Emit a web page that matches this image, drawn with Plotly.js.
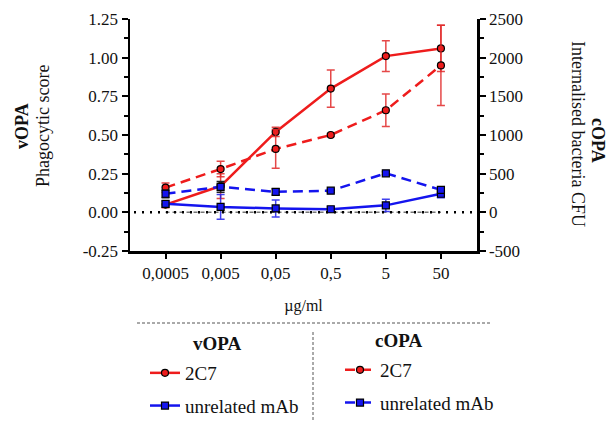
<!DOCTYPE html>
<html>
<head>
<meta charset="utf-8">
<script src="https://cdn.plot.ly/plotly-3.0.1.min.js"></script>
<style>html,body{margin:0;padding:0;background:#fff;}#chart{width:608px;height:422px;}</style>
</head>
<body>
<div id="chart"></div>
<script>
// ---- data ----
const categories = ['0,0005', '0,005', '0,05', '0,5', '5', '50'];
const vopa2C7 = [0.05, 0.17, 0.52, 0.80, 1.01, 1.06];
const vopa2C7Err = [0.02, 0.08, 0.03, 0.12, 0.10, 0.15];
const vopaUnrelated = [0.055, 0.035, 0.025, 0.02, 0.045, 0.12];
const vopaUnrelatedErr = [0.02, 0.08, 0.055, 0.015, 0.04, 0.025];
const copa2C7 = [320, 560, 820, 1000, 1320, 1900];
const copa2C7Err = [60, 100, 250, 20, 210, 520];
const copaUnrelated = [240, 330, 265, 280, 505, 290];
const copaUnrelatedErr = [50, 70, 40, 20, 20, 30];
const controlBaseline = [0, 0, 0, 0, 0, 0];
const leftTicks = [-0.25, 0, 0.25, 0.5, 0.75, 1.0, 1.25];
const leftTickLabels = ['-0.25', '0.00', '0.25', '0.50', '0.75', '1.00', '1.25'];
const rightTicks = [-500, 0, 500, 1000, 1500, 2000, 2500];
const rightTickLabels = ['-500', '0', '500', '1000', '1500', '2000', '2500'];

// ---- layout helpers ----
const W = 608, H = 422;
const M = {l: 130, r: 131, t: 19, b: 171, autoexpand: false};
const pw = W - M.l - M.r, ph = H - M.t - M.b;
const px = x => (x - M.l) / pw;
const py = y => (H - M.b - y) / ph;

const RED = '#ee1c1c', BLUE = '#1414ee';
const FONT = 'Liberation Serif';
const TXT = '#111';

const traces = [
  {x: categories, y: controlBaseline, type: 'scatter', mode: 'lines', yaxis: 'y',
   line: {color: '#777', width: 1.5, dash: '4px,3px'}, showlegend: false, hoverinfo: 'skip'},
  {x: categories, y: vopa2C7, name: '2C7', type: 'scatter', mode: 'lines+markers', yaxis: 'y',
   legend: 'legend', legendgroup: 'a',
   line: {color: RED, width: 2.5},
   marker: {symbol: 'circle', size: 7, color: RED, line: {color: '#000', width: 1.2}},
   error_y: {type: 'data', array: vopa2C7Err, visible: true, color: 'rgba(225,40,40,0.85)', thickness: 1.5, width: 4}},
  {x: categories, y: vopaUnrelated, name: 'unrelated mAb', type: 'scatter', mode: 'lines+markers', yaxis: 'y',
   legend: 'legend', legendgroup: 'b',
   line: {color: BLUE, width: 2.5},
   marker: {symbol: 'square', size: 7, color: BLUE, line: {color: '#000', width: 1.2}},
   error_y: {type: 'data', array: vopaUnrelatedErr, visible: true, color: 'rgba(30,30,235,0.85)', thickness: 1.5, width: 4}},
  {x: categories, y: copa2C7, name: '2C7', type: 'scatter', mode: 'lines+markers', yaxis: 'y2',
   legend: 'legend2', legendgroup: 'c',
   line: {color: RED, width: 2.5, dash: '10px,6px'},
   marker: {symbol: 'circle', size: 7, color: RED, line: {color: '#000', width: 1.2}},
   error_y: {type: 'data', array: copa2C7Err, visible: true, color: 'rgba(225,40,40,0.85)', thickness: 1.5, width: 4}},
  {x: categories, y: copaUnrelated, name: 'unrelated mAb', type: 'scatter', mode: 'lines+markers', yaxis: 'y2',
   legend: 'legend2', legendgroup: 'd',
   line: {color: BLUE, width: 2.5, dash: '10px,6px'},
   marker: {symbol: 'square', size: 7, color: BLUE, line: {color: '#000', width: 1.2}},
   error_y: {type: 'data', array: copaUnrelatedErr, visible: true, color: '#222', thickness: 1.5, width: 4}}
];

const axisCommon = {
  showline: true, linecolor: '#000', linewidth: 2.5, ticks: 'outside', ticklen: 6, tickwidth: 2,
  tickcolor: '#000', showgrid: false, zeroline: false, automargin: false,
  tickfont: {family: FONT, size: 17, color: TXT}
};

const legendCommon = {
  xanchor: 'left', yanchor: 'top', bgcolor: 'rgba(0,0,0,0)',
  font: {family: FONT, size: 19, color: TXT}, tracegroupgap: 5, itemwidth: 30
};

const layout = {
  width: W, height: H,
  margin: M,
  paper_bgcolor: '#fff', plot_bgcolor: '#fff',
  font: {family: FONT, color: TXT},
  xaxis: Object.assign({}, axisCommon, {
    type: 'category', range: [-0.645, 5.655], ticklen: 5,
    title: {text: 'µg/ml', font: {family: FONT, size: 16, color: TXT}, standoff: 18}
  }),
  yaxis: Object.assign({}, axisCommon, {
    range: [-0.25, 1.25], tickvals: leftTicks, ticktext: leftTickLabels,
    minor: {dtick: 0.125, ticks: 'outside', ticklen: 4, tickwidth: 2, tickcolor: '#000'}
  }),
  yaxis2: Object.assign({}, axisCommon, {
    overlaying: 'y', side: 'right', range: [-500, 2500], tickvals: rightTicks, ticktext: rightTickLabels,
    minor: {dtick: 250, ticks: 'outside', ticklen: 4, tickwidth: 2, tickcolor: '#000'}
  }),
  legend: Object.assign({}, legendCommon, {x: px(145), y: py(354)}),
  legend2: Object.assign({}, legendCommon, {x: px(340), y: py(351)}),
  shapes: [
    {type: 'line', xref: 'paper', yref: 'y', x0: px(134), x1: px(474), y0: 0, y1: 0,
     line: {color: '#000', width: 2.5, dash: '2px,6px'}},
    {type: 'line', xref: 'paper', yref: 'paper', x0: px(137), x1: px(492), y0: py(323), y1: py(323),
     line: {color: '#555', width: 1, dash: '3px,2px'}},
    {type: 'line', xref: 'paper', yref: 'paper', x0: px(313), x1: px(313), y0: py(332), y1: py(422),
     line: {color: '#555', width: 1, dash: '3px,2px'}}
  ],
  annotations: [
    {xref: 'paper', yref: 'paper', x: px(22), y: py(126), text: '<b>vOPA</b>', textangle: -90, showarrow: false,
     font: {family: FONT, size: 18, color: TXT}, xanchor: 'center', yanchor: 'middle'},
    {xref: 'paper', yref: 'paper', x: px(43), y: py(126), text: 'Phagocytic score', textangle: -90, showarrow: false,
     font: {family: FONT, size: 18, color: TXT}, xanchor: 'center', yanchor: 'middle'},
    {xref: 'paper', yref: 'paper', x: px(578), y: py(134), text: 'Internalised bacteria CFU', textangle: 90, showarrow: false,
     font: {family: FONT, size: 18, color: TXT}, xanchor: 'center', yanchor: 'middle'},
    {xref: 'paper', yref: 'paper', x: px(598), y: py(140), text: '<b>cOPA</b>', textangle: 90, showarrow: false,
     font: {family: FONT, size: 18, color: TXT}, xanchor: 'center', yanchor: 'middle'},
    {xref: 'paper', yref: 'paper', x: px(217), y: py(343), text: '<b>vOPA</b>', showarrow: false,
     font: {family: FONT, size: 19, color: TXT}, xanchor: 'center', yanchor: 'middle'},
    {xref: 'paper', yref: 'paper', x: px(398), y: py(340), text: '<b>cOPA</b>', showarrow: false,
     font: {family: FONT, size: 19, color: TXT}, xanchor: 'center', yanchor: 'middle'}
  ],
  showlegend: true
};

Plotly.newPlot('chart', traces, layout, {displayModeBar: false, staticPlot: true});
</script>
</body>
</html>
